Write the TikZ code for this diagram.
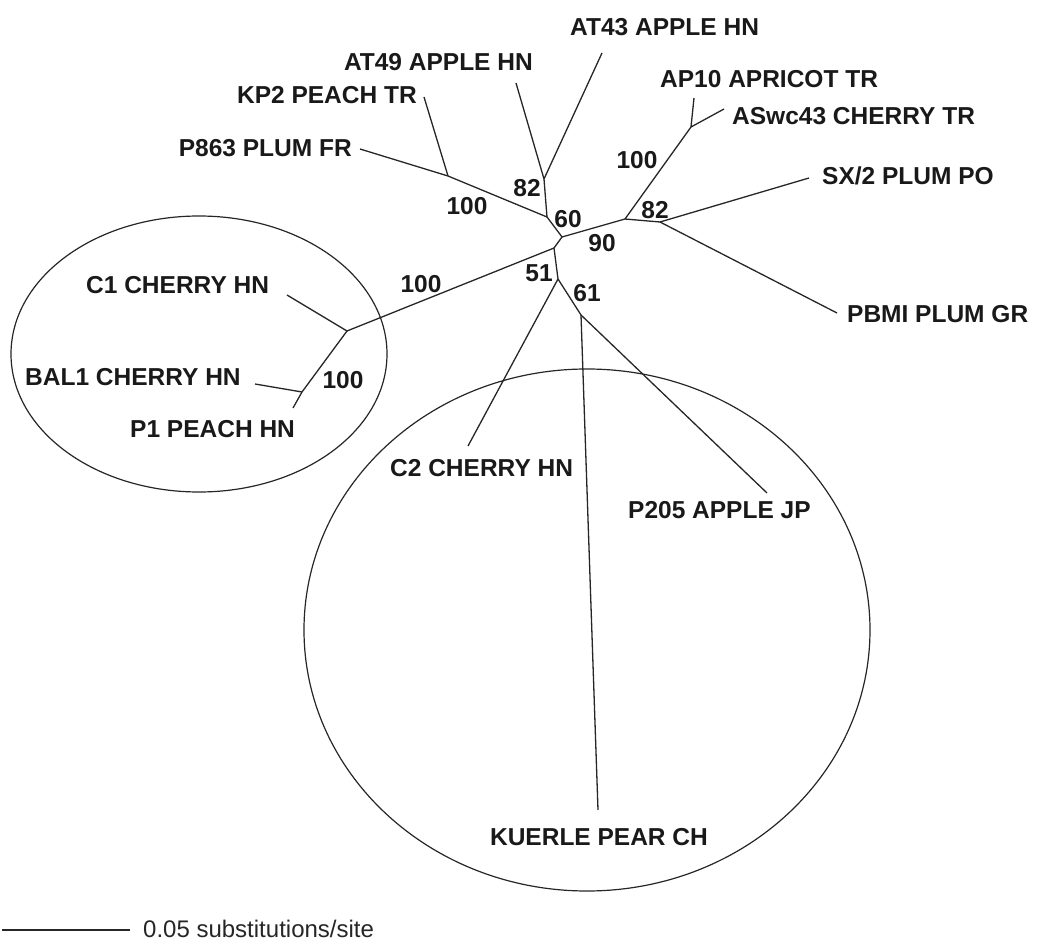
\documentclass[tikz,border=0pt]{standalone}
\usepackage{fontspec}
\setmainfont{Liberation Sans}
\tikzset{
  lbl/.style={inner sep=0pt, font=\fontsize{24.5}{26}\selectfont\bfseries, text=black!90},
  boot/.style={inner sep=0pt, font=\fontsize{24.5}{26}\selectfont\bfseries, text=black!90},
  br/.style={line width=1.3pt, black!85},
  grp/.style={line width=1.2pt, black!85},
}
\begin{document}
\begin{tikzpicture}[x=1pt,y=-1pt]
\useasboundingbox (0,0) rectangle (1042,941);
% internal nodes
\coordinate (A) at (544,179);
\coordinate (B) at (547,217);
\coordinate (C) at (562,237);
\coordinate (D) at (625,219);
\coordinate (H) at (691,127);
\coordinate (I) at (660,222);
\coordinate (E) at (554,248);
\coordinate (F) at (558,279);
\coordinate (G) at (581,315);
\coordinate (J) at (347,331);
\coordinate (K) at (302,392);
\coordinate (L) at (448,176);
% tip ends
\coordinate (tP863) at (360,149);
\coordinate (tKP2) at (424,97);
\coordinate (tAT49) at (516,83);
\coordinate (tAT43) at (602,53);
\coordinate (tAP10) at (694,98);
\coordinate (tASwc) at (724,109);
\coordinate (tSX) at (809,178);
\coordinate (tPBMI) at (837,313);
\coordinate (tC1) at (287,295);
\coordinate (tBAL1) at (255,384);
\coordinate (tP1) at (293,408);
\coordinate (tC2) at (468,446);
\coordinate (tKU) at (598,810);
\coordinate (tP205) at (767,493);
% branches
\draw[br] (tP863) -- (L) -- (B);
\draw[br] (tKP2) -- (L);
\draw[br] (tAT49) -- (A);
\draw[br] (tAT43) -- (A);
\draw[br] (A) -- (B) -- (C) -- (D);
\draw[br] (D) -- (H);
\draw[br] (H) -- (tAP10);
\draw[br] (H) -- (tASwc);
\draw[br] (D) -- (I);
\draw[br] (I) -- (tSX);
\draw[br] (I) -- (tPBMI);
\draw[br] (C) -- (E);
\draw[br] (E) -- (J);
\draw[br] (J) -- (tC1);
\draw[br] (J) -- (K);
\draw[br] (K) -- (tBAL1);
\draw[br] (K) -- (tP1);
\draw[br] (E) -- (F);
\draw[br] (F) -- (tC2);
\draw[br] (F) -- (G);
\draw[br] (G) -- (tKU);
\draw[br] (G) -- (tP205);
% group ellipses
\draw[grp] (199,354) ellipse [x radius=188, y radius=138];
\draw[grp] (587,630) ellipse [x radius=283, y radius=261];
% taxon labels
\node[lbl, anchor=west] (nAT43) at (570,27) {AT43 APPLE HN};
\node[lbl, anchor=east] (nAT49) at (533,62) {AT49 APPLE HN};
\node[lbl, anchor=east] (nKP2) at (417,95) {KP2 PEACH TR};
\node[lbl, anchor=east] (nP863) at (352,148) {P863 PLUM FR};
\node[lbl, anchor=west] (nAP10) at (660,79) {AP10 APRICOT TR};
\node[lbl, anchor=west] (nASwc) at (732,116) {ASwc43 CHERRY TR};
\node[lbl, anchor=west] (nSX) at (822,176) {SX/2 PLUM PO};
\node[lbl, anchor=west] (nPBMI) at (847,314) {PBMI PLUM GR};
\node[lbl, anchor=west] (nC1) at (86,285) {C1 CHERRY HN};
\node[lbl, anchor=west] (nBAL1) at (25,377) {BAL1 CHERRY HN};
\node[lbl, anchor=west] (nP1) at (130,429) {P1 PEACH HN};
\node[lbl, anchor=west] (nC2) at (390,468) {C2 CHERRY HN};
\node[lbl, anchor=west] (nP205) at (628,510) {P205 APPLE JP};
\node[lbl] (nKU) at (599,837) {KUERLE PEAR CH};
% bootstrap values
\node[boot] (b1) at (467,206) {100};
\node[boot] (b2) at (527,188) {82};
\node[boot] (b3) at (568,219) {60};
\node[boot] (b4) at (637,160) {100};
\node[boot] (b5) at (655,210) {82};
\node[boot] (b6) at (602,243) {90};
\node[boot] (b7) at (539,273) {51};
\node[boot] (b8) at (587,293) {61};
\node[boot] (b9) at (421,284) {100};
\node[boot] (b10) at (343,380) {100};
% scale bar
\coordinate (s1) at (2,930);
\coordinate (s2) at (130,930);
\draw[line width=1.3pt, black!85] (s1) -- (s2);
\node[inner sep=0pt, anchor=west, font=\fontsize{24}{26}\selectfont, text=black!85] (scl) at (143,929) {0.05 substitutions/site};
\end{tikzpicture}
\end{document}
